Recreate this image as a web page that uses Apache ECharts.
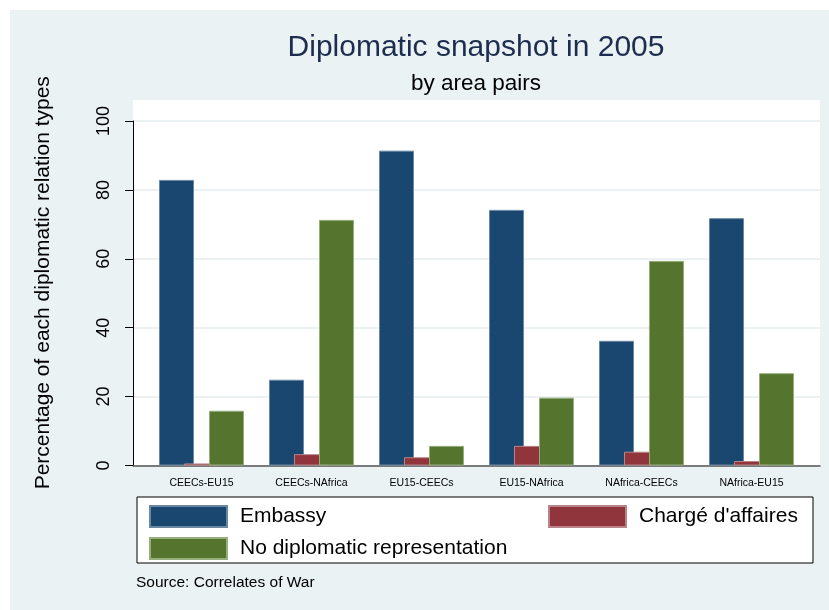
<!DOCTYPE html>
<html>
<head>
<meta charset="utf-8">
<script src="https://cdn.jsdelivr.net/npm/echarts@6/dist/echarts.min.js"></script>
<style>
html,body{margin:0;padding:0;background:#fff;}
#chart{width:829px;height:610px;}
</style>
</head>
<body>
<div id="chart"></div>
<script>
const categories = ['CEECs-EU15', 'CEECs-NAfrica', 'EU15-CEECs', 'EU15-NAfrica', 'NAfrica-CEECs', 'NAfrica-EU15'];
const embassy = [82.9, 24.9, 91.4, 74.2, 36.2, 71.8];
const charge = [0.6, 3.3, 2.4, 5.7, 4.0, 1.3];
const noRep = [15.9, 71.3, 5.7, 19.7, 59.4, 26.8];
const yTicks = {min: 0, max: 100, interval: 20};

const FONT = 'Liberation Sans, Arial, sans-serif';
const chart = echarts.init(document.getElementById('chart'), null, {renderer: 'canvas'});

const option = {
  animation: false,
  backgroundColor: '#ffffff',
  textStyle: {fontFamily: FONT},
  graphic: [{
    type: 'rect', left: 10, top: 10, z: -10,
    shape: {width: 819, height: 600},
    style: {fill: '#EAF2F3'}
  }],
  title: [
    {text: 'Diplomatic snapshot in 2005', left: 476, textAlign: 'center', top: 33, padding: 0,
     textStyle: {fontFamily: FONT, fontSize: 30, fontWeight: 'normal', color: '#1E2C4F'}},
    {text: 'by area pairs', left: 476, textAlign: 'center', top: 72, padding: 0,
     textStyle: {fontFamily: FONT, fontSize: 22.5, fontWeight: 'normal', color: '#000'}},
    {text: 'Source: Correlates of War', left: 136, top: 575, padding: 0,
     textStyle: {fontFamily: FONT, fontSize: 15.5, fontWeight: 'normal', color: '#000'}}
  ],
  grid: [
    {left: 133, top: 100, width: 687, height: 365.5, show: true, backgroundColor: '#ffffff', borderWidth: 0},
    {left: 133, top: 121, width: 687, height: 344.5},
    {left: 146.5, top: 121, width: 660, height: 344.5},
    {left: 137, top: 497, width: 676, height: 66, show: true, backgroundColor: '#ffffff', borderColor: '#000', borderWidth: 1}
  ],
  xAxis: [
    {gridIndex: 0, type: 'category', data: [''], show: false},
    {gridIndex: 1, type: 'category', data: [''], axisLine: {show: true, lineStyle: {color: '#555', width: 1.5}},
     axisTick: {show: false}, axisLabel: {show: false}, splitLine: {show: false}},
    {gridIndex: 2, type: 'category', data: categories, axisLine: {show: false}, axisTick: {show: false},
     axisLabel: {fontFamily: FONT, fontSize: 10.5, color: '#000', margin: 12, interval: 0}},
    {gridIndex: 3, type: 'category', data: [''], show: false}
  ],
  yAxis: [
    {gridIndex: 0, type: 'value', min: 0, max: 1, axisLine: {show: false}, axisTick: {show: false},
     axisLabel: {show: false}, splitLine: {show: false},
     name: 'Percentage of each diplomatic relation types', nameLocation: 'middle', nameGap: 79, nameRotate: 90,
     nameTextStyle: {fontFamily: FONT, fontSize: 21, color: '#000'}},
    {gridIndex: 1, type: 'value', min: yTicks.min, max: yTicks.max, interval: yTicks.interval,
     axisLine: {show: true, lineStyle: {color: '#000', width: 1}},
     axisTick: {show: true, length: 8, lineStyle: {color: '#000'}},
     axisLabel: {rotate: 90, margin: 20, fontFamily: FONT, fontSize: 18, color: '#000'},
     splitLine: {show: true, lineStyle: {color: '#E6EEF0', width: 1.5}}},
    {gridIndex: 2, type: 'value', min: yTicks.min, max: yTicks.max, show: false},
    {gridIndex: 3, type: 'value', show: false}
  ],
  legend: [
    {data: ['Embassy', 'No diplomatic representation'], orient: 'vertical', left: 149, top: 505, padding: 0,
     itemWidth: 77, itemHeight: 21, itemGap: 9, icon: 'rect',
     textStyle: {fontFamily: FONT, fontSize: 21, color: '#000', padding: [0, 0, 0, 8]}},
    {data: ["Chargé d'affaires"], orient: 'vertical', left: 548, top: 505, padding: 0,
     itemWidth: 77, itemHeight: 21, icon: 'rect',
     textStyle: {fontFamily: FONT, fontSize: 21, color: '#000', padding: [0, 0, 0, 8]}}
  ],
  series: [
    {name: 'Embassy', type: 'bar', xAxisIndex: 2, yAxisIndex: 2, data: embassy, barWidth: 35, barGap: '-28.6%',
     itemStyle: {color: '#1A476F', borderColor: '#6A88A3', borderWidth: 1}},
    {name: "Chargé d'affaires", type: 'bar', xAxisIndex: 2, yAxisIndex: 2, data: charge, barWidth: 35, barGap: '-28.6%',
     itemStyle: {color: '#90353B', borderColor: '#B88488', borderWidth: 1}},
    {name: 'No diplomatic representation', type: 'bar', xAxisIndex: 2, yAxisIndex: 2, data: noRep, barWidth: 35, barGap: '-28.6%',
     itemStyle: {color: '#55752F', borderColor: '#97AE7E', borderWidth: 1}}
  ]
};
chart.setOption(option);
</script>
</body>
</html>
